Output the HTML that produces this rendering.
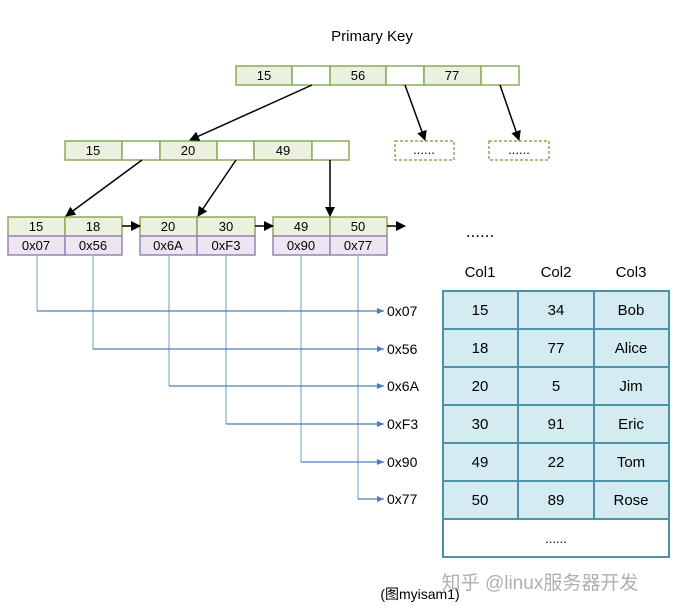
<!DOCTYPE html>
<html><head><meta charset="utf-8"><style>body{margin:0;background:#fff}svg{display:block}text{font-family:"Liberation Sans","Noto Sans CJK SC",sans-serif}</style></head><body>
<svg width="697" height="610" viewBox="0 0 697 610" xmlns="http://www.w3.org/2000/svg">
<defs>
<marker id="a" markerWidth="10" markerHeight="10" refX="9" refY="5" orient="auto" markerUnits="userSpaceOnUse"><path d="M0,0 L10,5 L0,10 z" fill="#000"/></marker>
<marker id="b" markerWidth="8" markerHeight="8" refX="7" refY="4" orient="auto" markerUnits="userSpaceOnUse"><path d="M0,1 L7,4 L0,7 z" fill="#4a7ebb"/></marker>
</defs>
<text x="372" y="41" font-size="15" text-anchor="middle">Primary Key</text>
<g stroke="#8aac5a" stroke-width="1.5" font-size="13">
<rect x="236" y="66" width="56" height="19" fill="#ebf1de"/><rect x="292" y="66" width="38" height="19" fill="#fff"/>
<rect x="330" y="66" width="56" height="19" fill="#ebf1de"/><rect x="386" y="66" width="38" height="19" fill="#fff"/>
<rect x="424" y="66" width="57" height="19" fill="#ebf1de"/><rect x="481" y="66" width="38" height="19" fill="#fff"/>
<rect x="65" y="141" width="57" height="19" fill="#ebf1de"/><rect x="122" y="141" width="38" height="19" fill="#fff"/>
<rect x="160" y="141" width="57" height="19" fill="#ebf1de"/><rect x="217" y="141" width="37" height="19" fill="#fff"/>
<rect x="254" y="141" width="58" height="19" fill="#ebf1de"/><rect x="312" y="141" width="37" height="19" fill="#fff"/>
<rect x="395" y="141" width="59" height="19" fill="#fff" stroke-dasharray="3,2"/>
<rect x="489" y="141" width="60" height="19" fill="#fff" stroke-dasharray="3,2"/>
<rect x="8" y="217" width="57" height="19" fill="#ebf1de"/><rect x="65" y="217" width="57" height="19" fill="#ebf1de"/>
<rect x="140" y="217" width="57" height="19" fill="#ebf1de"/><rect x="197" y="217" width="58" height="19" fill="#ebf1de"/>
<rect x="273" y="217" width="57" height="19" fill="#ebf1de"/><rect x="330" y="217" width="57" height="19" fill="#ebf1de"/>
</g>
<g stroke="#9a84b8" stroke-width="1.5">
<rect x="8" y="236" width="57" height="19" fill="#ece6f3"/><rect x="65" y="236" width="57" height="19" fill="#ece6f3"/>
<rect x="140" y="236" width="57" height="19" fill="#ece6f3"/><rect x="197" y="236" width="58" height="19" fill="#ece6f3"/>
<rect x="273" y="236" width="57" height="19" fill="#ece6f3"/><rect x="330" y="236" width="57" height="19" fill="#ece6f3"/>
</g>
<g font-size="13" text-anchor="middle">
<text x="264" y="80">15</text><text x="358" y="80">56</text><text x="452" y="80">77</text>
<text x="93" y="155">15</text><text x="188" y="155">20</text><text x="283" y="155">49</text>
<text x="424" y="154">......</text><text x="519" y="154">......</text>
<text x="36" y="231">15</text><text x="93" y="231">18</text><text x="168" y="231">20</text><text x="226" y="231">30</text><text x="301" y="231">49</text><text x="358" y="231">50</text>
<text x="36" y="250">0x07</text><text x="93" y="250">0x56</text><text x="168" y="250">0x6A</text><text x="226" y="250">0xF3</text><text x="301" y="250">0x90</text><text x="358" y="250">0x77</text>
</g>
<g stroke="#000" stroke-width="1.5" marker-end="url(#a)">
<line x1="312" y1="85" x2="190" y2="140"/>
<line x1="405" y1="85" x2="425" y2="140"/>
<line x1="500" y1="85" x2="519" y2="140"/>
<line x1="142" y1="160" x2="66" y2="216"/>
<line x1="236" y1="160" x2="198" y2="216"/>
<line x1="330" y1="160" x2="330" y2="216"/>
<line x1="122" y1="226" x2="140" y2="226"/>
<line x1="255" y1="226" x2="273" y2="226"/>
<line x1="387" y1="226" x2="405" y2="226"/>
</g>
<text x="480" y="237" font-size="17" text-anchor="middle">......</text>
<g stroke="#8fb4d8" stroke-width="1.3" fill="none">
<line x1="37" y1="255" x2="37" y2="311"/><line x1="93" y1="255" x2="93" y2="349"/>
<line x1="169" y1="255" x2="169" y2="386"/><line x1="226" y1="255" x2="226" y2="424"/>
<line x1="301" y1="255" x2="301" y2="462"/><line x1="358" y1="255" x2="358" y2="499"/>
</g>
<g stroke="#4a7ebb" stroke-width="1.2" fill="none" marker-end="url(#b)">
<line x1="37" y1="311" x2="384" y2="311"/><line x1="93" y1="349" x2="384" y2="349"/>
<line x1="169" y1="386" x2="384" y2="386"/><line x1="226" y1="424" x2="384" y2="424"/>
<line x1="301" y1="462" x2="384" y2="462"/><line x1="358" y1="499" x2="384" y2="499"/>
</g>
<g font-size="14">
<text x="387" y="316">0x07</text><text x="387" y="354">0x56</text><text x="387" y="391">0x6A</text>
<text x="387" y="429">0xF3</text><text x="387" y="467">0x90</text><text x="387" y="504">0x77</text>
</g>
<g font-size="15" text-anchor="middle">
<text x="480" y="277">Col1</text><text x="556" y="277">Col2</text><text x="631" y="277">Col3</text>
</g>
<rect x="443" y="291" width="226" height="266" fill="#fff" stroke="#4a93a8" stroke-width="2"/>
<g fill="#d3ebf1" stroke="#4a93a8" stroke-width="2">
<rect x="443" y="291" width="75" height="38"/><rect x="518" y="291" width="76" height="38"/><rect x="594" y="291" width="75" height="38"/>
<rect x="443" y="329" width="75" height="38"/><rect x="518" y="329" width="76" height="38"/><rect x="594" y="329" width="75" height="38"/>
<rect x="443" y="367" width="75" height="38"/><rect x="518" y="367" width="76" height="38"/><rect x="594" y="367" width="75" height="38"/>
<rect x="443" y="405" width="75" height="38"/><rect x="518" y="405" width="76" height="38"/><rect x="594" y="405" width="75" height="38"/>
<rect x="443" y="443" width="75" height="38"/><rect x="518" y="443" width="76" height="38"/><rect x="594" y="443" width="75" height="38"/>
<rect x="443" y="481" width="75" height="38"/><rect x="518" y="481" width="76" height="38"/><rect x="594" y="481" width="75" height="38"/>
</g>
<g font-size="15" text-anchor="middle">
<text x="480" y="315">15</text><text x="556" y="315">34</text><text x="631" y="315">Bob</text>
<text x="480" y="353">18</text><text x="556" y="353">77</text><text x="631" y="353">Alice</text>
<text x="480" y="391">20</text><text x="556" y="391">5</text><text x="631" y="391">Jim</text>
<text x="480" y="429">30</text><text x="556" y="429">91</text><text x="631" y="429">Eric</text>
<text x="480" y="467">49</text><text x="556" y="467">22</text><text x="631" y="467">Tom</text>
<text x="480" y="505">50</text><text x="556" y="505">89</text><text x="631" y="505">Rose</text>
<text x="556" y="543" font-size="13">......</text>
</g>
<text x="540" y="589" font-size="19" fill="#b0b0b0" text-anchor="middle">知乎 @linux服务器开发</text>
<text x="420" y="599" font-size="14" text-anchor="middle">(图myisam1)</text>
</svg>
</body></html>
